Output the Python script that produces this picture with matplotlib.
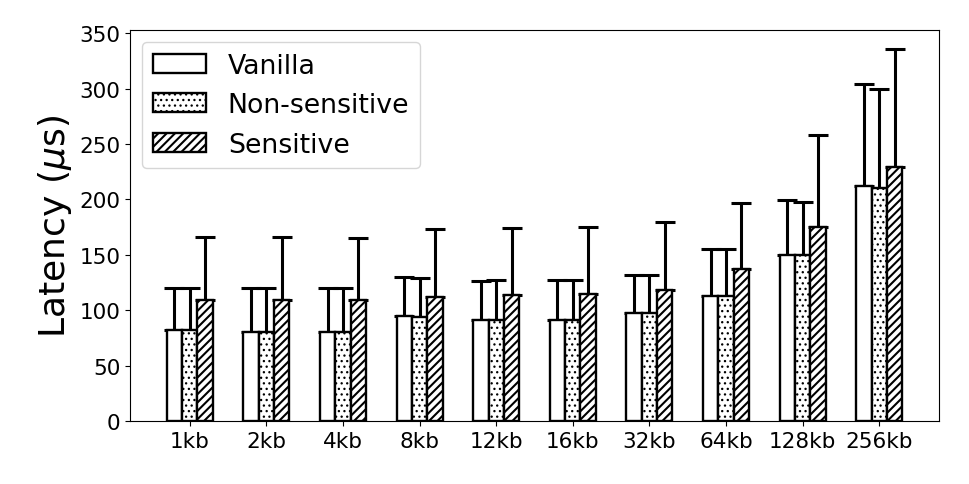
import matplotlib
matplotlib.use("Agg")
import matplotlib.pyplot as plt
import numpy as np

categories = ["1kb", "2kb", "4kb", "8kb", "12kb", "16kb", "32kb", "64kb", "128kb", "256kb"]
series_names = ["Vanilla", "Non-sensitive", "Sensitive"]
vanilla_mean = [82, 80, 80, 95, 91, 91, 97, 113, 150, 212]
vanilla_err = [38, 40, 40, 35, 35, 36, 35, 42, 49, 92]
nonsens_mean = [82, 80, 80, 94, 91, 91, 97, 113, 150, 210]
nonsens_err = [38, 40, 40, 35, 36, 36, 35, 42, 48, 90]
sens_mean = [109, 109, 109, 112, 114, 115, 118, 137, 175, 229]
sens_err = [57, 57, 56, 61, 60, 60, 62, 60, 83, 107]

means = [vanilla_mean, nonsens_mean, sens_mean]
errs = [vanilla_err, nonsens_err, sens_err]
hatches = ["", "...", "////"]
hatch_lws = [1.0, 0.9, 1.5]

fig = plt.figure(figsize=(9.69, 4.85), dpi=100)
ax = fig.add_axes([130/969, 63/485, 809/969, 391/485])

x = np.arange(len(categories))
width = 0.2
for i, (m, e, h, name) in enumerate(zip(means, errs, hatches, series_names)):
    pos = x + (i - 1) * width
    with plt.rc_context({'hatch.linewidth': hatch_lws[i]}):
        bars = ax.bar(pos, m, width, color="white", edgecolor="black", linewidth=1.7,
                      hatch=h, label=name, zorder=3)
    for b in bars:
        if hasattr(b, "set_hatch_linewidth"):
            b.set_hatch_linewidth(hatch_lws[i])
    e = np.asarray(e)
    ax.errorbar(pos, m, yerr=[np.zeros_like(e), e], fmt="none", ecolor="black",
                elinewidth=2.2, capsize=7, capthick=2.2, zorder=2)

ax.set_xticks(x)
ax.set_xticklabels(categories)
ax.tick_params(axis="both", labelsize=15.5)
ax.set_yticks([0, 50, 100, 150, 200, 250, 300, 350])
ax.set_ylabel(r"Latency ($\mu$s)", fontsize=26)
leg = ax.legend(loc="upper left", fontsize=19.3, borderaxespad=0.45)
for p, lw in zip(leg.get_patches(), hatch_lws):
    if hasattr(p, "set_hatch_linewidth"):
        p.set_hatch_linewidth(lw)

fig.savefig("out.png", dpi=100)
